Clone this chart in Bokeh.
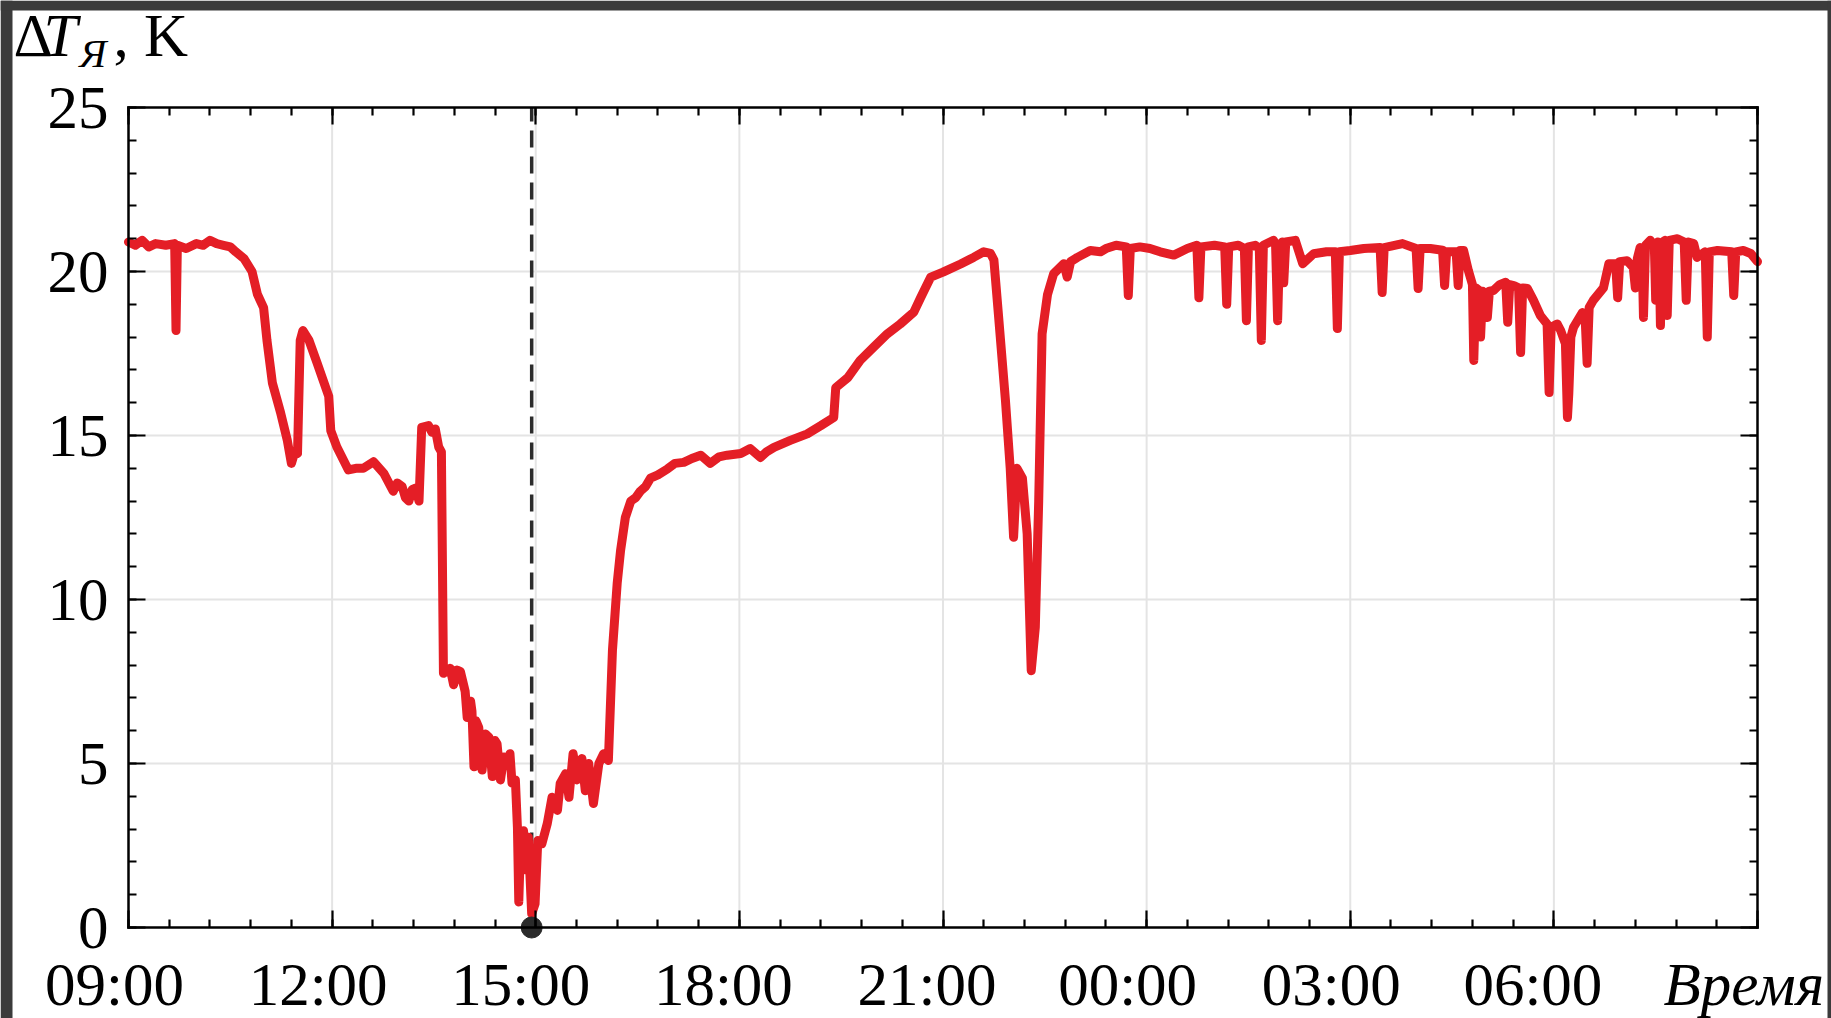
from bokeh.plotting import figure
from bokeh.models import (Range1d, FixedTicker, LabelSet, ColumnDataSource,
                          LinearAxis, BoxAnnotation)
from bokeh.core.properties import value
from bokeh.embed import file_html
from bokeh.resources import INLINE

# ---------------- data (time in hours, 9 = 09:00, 33 = 09:00 next day) ----------------
time_h = [
    9.00, 9.10, 9.20, 9.30, 9.40, 9.55, 9.68, 9.70, 9.72, 9.85, 10.00, 10.10, 10.20, 10.30,
    10.40, 10.50, 10.58, 10.70, 10.82, 10.90, 10.99, 11.04, 11.12, 11.24, 11.34, 11.40,
    11.45, 11.49, 11.53, 11.57, 11.66, 11.78, 11.95, 11.98, 12.07, 12.24, 12.35, 12.46,
    12.61, 12.76, 12.90, 12.96, 13.03, 13.08, 13.13, 13.18, 13.23, 13.28, 13.32, 13.42,
    13.47, 13.52, 13.57, 13.61, 13.64,
    13.74, 13.79, 13.84, 13.89, 13.96, 13.99, 14.04, 14.06, 14.09, 14.12, 14.16, 14.21,
    14.26, 14.31, 14.36, 14.40, 14.43, 14.48, 14.53, 14.58, 14.62, 14.65, 14.70, 14.73,
    14.75, 14.78, 14.82, 14.86, 14.89, 14.94, 14.99, 15.03, 15.09, 15.17, 15.24, 15.32,
    15.36, 15.44, 15.49, 15.55, 15.61, 15.68, 15.73, 15.78, 15.85, 15.93, 16.00, 16.07,
    16.13, 16.20, 16.25,
    16.32, 16.40, 16.47, 16.54, 16.62, 16.69, 16.80, 16.94, 17.05, 17.18, 17.30, 17.43,
    17.57, 17.70, 17.82, 18.02, 18.16, 18.31, 18.40, 18.51, 18.75, 19.00, 19.20, 19.39,
    19.42, 19.60, 19.78, 19.98, 20.18, 20.37, 20.57, 20.67, 20.82, 21.00, 21.26, 21.45,
    21.60, 21.70, 21.75, 21.82, 21.92, 21.99, 22.04, 22.09, 22.17, 22.24, 22.30, 22.36,
    22.41, 22.46, 22.54, 22.63, 22.78, 22.83, 22.88, 22.98, 23.17, 23.32,
    23.40, 23.55, 23.70, 23.73, 23.76, 23.90, 24.05, 24.20, 24.40, 24.60, 24.74, 24.77,
    24.80, 25.00, 25.15, 25.18, 25.21, 25.35, 25.44, 25.47, 25.50, 25.60, 25.66, 25.69,
    25.72, 25.87, 25.90, 25.93, 25.96, 26.00, 26.02, 26.05, 26.19, 26.30, 26.46, 26.65,
    26.78, 26.81, 26.84, 27.00, 27.20, 27.44, 27.47, 27.50, 27.77, 27.97, 28.00, 28.03,
    28.18, 28.36, 28.39, 28.42, 28.56, 28.59, 28.62, 28.67, 28.74, 28.80, 28.82, 28.85,
    28.90, 28.92, 28.95, 29.00, 29.02, 29.05, 29.11, 29.20, 29.29, 29.32, 29.35, 29.41,
    29.48, 29.51, 29.54, 29.61, 29.70, 29.80, 29.90, 29.93, 29.96, 30.05, 30.10, 30.17,
    30.20, 30.22, 30.25, 30.29, 30.42, 30.46, 30.49, 30.52, 30.58, 30.73, 30.81, 30.91,
    30.94, 30.97, 31.08, 31.17, 31.20, 31.23, 31.27, 31.30, 31.32, 31.35, 31.42, 31.48,
    31.50, 31.53, 31.55, 31.57, 31.60, 31.64, 31.67, 31.70, 31.82, 31.92, 31.95, 31.98,
    32.06, 32.11, 32.23, 32.26, 32.29, 32.41, 32.62, 32.65, 32.68, 32.79, 32.90, 33.00,
]
delta_t = [
    20.9, 20.8, 20.95, 20.75, 20.85, 20.8, 20.85, 18.2, 20.8, 20.7, 20.85, 20.8, 20.95, 20.85,
    20.8, 20.75, 20.6, 20.4, 20.0, 19.3, 18.9, 17.9, 16.6, 15.7, 14.85, 14.15,
    14.5, 14.45, 17.9, 18.2, 17.9, 17.2, 16.2, 15.15, 14.65, 13.95, 14.0, 14.0,
    14.2, 13.85, 13.3, 13.55, 13.45, 13.1, 13.0, 13.35, 13.4, 13.0, 15.25, 15.3,
    15.1, 15.2, 14.65, 14.5, 7.75,
    7.9, 7.4, 7.85, 7.8, 7.2, 6.4, 6.9, 6.6, 4.9, 6.3, 6.1, 4.8,
    5.9, 5.8, 4.6, 5.7, 5.6, 4.5, 5.2, 5.0, 5.3, 4.4, 4.5, 3.05,
    0.78, 2.87, 2.95, 1.75, 2.75, 0.42, 0.72, 2.65, 2.55, 3.17, 3.97, 3.57,
    4.39, 4.69, 3.97, 5.3, 4.5, 5.15, 4.17, 5.0, 3.78, 5.0, 5.3, 5.09,
    8.45, 10.5, 11.5,
    12.5, 13.0, 13.1, 13.3, 13.45, 13.7, 13.8, 13.98, 14.15, 14.18, 14.3, 14.4,
    14.15, 14.35, 14.4, 14.45, 14.6, 14.33, 14.5, 14.64, 14.85, 15.05, 15.3, 15.55,
    16.46, 16.77, 17.29, 17.7, 18.1, 18.4, 18.76, 19.2, 19.83, 19.98, 20.23, 20.43,
    20.6, 20.55, 20.35, 18.6, 16.07, 14.0, 11.9, 14.0, 13.7, 12.0, 7.83, 9.15,
    13.0, 18.1, 19.3, 19.93, 20.24, 19.83, 20.3, 20.43, 20.64, 20.6,
    20.7, 20.8, 20.75, 19.27, 20.7, 20.75, 20.7, 20.6, 20.5, 20.7, 20.8, 19.2,
    20.75, 20.8, 20.75, 19.0, 20.75, 20.8, 20.7, 18.5, 20.75, 20.8, 20.7, 17.9,
    20.8, 20.95, 20.8, 18.5, 20.8, 20.9, 19.66, 20.9, 20.95, 20.24, 20.54, 20.6,
    20.6, 18.26, 20.6, 20.64, 20.7, 20.73, 19.36, 20.73, 20.85, 20.7, 19.48, 20.7,
    20.7, 20.65, 19.57, 20.6, 20.6, 19.57, 20.64, 20.64, 20.03, 19.6, 17.29, 19.5,
    19.42, 18.0, 19.4, 19.3, 18.6, 19.4, 19.42, 19.6, 19.67, 18.45, 19.6, 19.57,
    19.5, 17.53, 19.5, 19.48, 19.12, 18.66, 18.4, 16.31, 18.3, 18.4, 18.2, 17.8,
    15.55, 16.28, 18.0, 18.3, 18.75, 18.6, 17.2, 18.9, 19.12, 19.5, 20.24, 20.24,
    19.2, 20.3, 20.33, 20.12, 19.5, 20.4, 20.73, 20.6, 18.6, 20.8, 20.95, 20.8,
    19.12, 20.9, 20.7, 18.35, 20.9, 20.95, 18.66, 20.95, 21.0, 20.9, 19.12, 20.9,
    20.85, 20.43, 20.6, 18.0, 20.6, 20.64, 20.6, 19.27, 20.6, 20.64, 20.55, 20.3,
]

x_ticks = [9, 12, 15, 18, 21, 24, 27, 30, 33]
x_tick_labels = ["09:00", "12:00", "15:00", "18:00", "21:00", "00:00", "03:00", "06:00"]
y_ticks = [0, 5, 10, 15, 20, 25]
x_minor = [9 + 0.6 * i for i in range(41)]
y_minor = list(range(0, 26))

marker_time = 14.94          # vertical dashed line / dot (approx. 14:56)
marker_value = 0.0

y_title_parts = ["Δ", "T", "Я", ", K"]
x_title = "Время"

# ---------------- layout constants (pixels) ----------------
W, H = 1831, 1018
BOX_L, BOX_R, BOX_T, BOX_B = 128, 1757, 107, 927
X0, X1 = x_ticks[0], x_ticks[-1]
Y0, Y1 = y_ticks[0], y_ticks[-1]
pxh = (BOX_R - BOX_L) / (X1 - X0)
pxv = (BOX_B - BOX_T) / (Y1 - Y0)
x_start = X0 - BOX_L / pxh
x_end = X1 + (W - BOX_R) / pxh
y_start = Y0 - (H - BOX_B) / pxv
y_end = Y1 + BOX_T / pxv

FONT = "Liberation Serif"
RED = "#e41e26"
GRID = "#e4e4e4"
DARK = "#3b3b3b"

p = figure(width=W, height=H, output_backend="svg", toolbar_location=None, title=None,
           x_range=Range1d(x_start, x_end), y_range=Range1d(y_start, y_end),
           min_border=0)
p.background_fill_color = "white"
p.border_fill_color = "white"
p.outline_line_color = None
p.xgrid.visible = False
p.ygrid.visible = False

xt = FixedTicker(ticks=x_ticks, minor_ticks=x_minor)
yt = FixedTicker(ticks=y_ticks, minor_ticks=y_minor)


def style_axis(ax, ticker, loc, bounds, show_labels):
    ax.ticker = ticker
    ax.fixed_location = loc
    ax.bounds = bounds
    ax.axis_line_color = "black"
    ax.axis_line_width = 2.5
    ax.axis_line_cap = "square"
    ax.major_tick_line_color = "black"
    ax.major_tick_line_width = 2.2
    ax.minor_tick_line_color = "black"
    ax.minor_tick_line_width = 2.2
    ax.major_tick_in = 17
    ax.major_tick_out = 0
    ax.minor_tick_in = 8
    ax.minor_tick_out = 0
    if show_labels:
        ax.major_label_text_font = FONT
        ax.major_label_text_font_size = "61px"
        ax.major_label_text_color = "black"
        ax.major_label_standoff = 20
    else:
        ax.major_label_text_font_size = "0px"
        ax.major_label_text_color = None


# grid lines (light grey) at the major ticks inside the data box
p.segment(x0=x_ticks[1:-1], y0=[Y0] * (len(x_ticks) - 2), x1=x_ticks[1:-1], y1=[Y1] * (len(x_ticks) - 2),
          line_color=GRID, line_width=2)
p.segment(x0=[X0] * (len(y_ticks) - 2), y0=y_ticks[1:-1], x1=[X1] * (len(y_ticks) - 2), y1=y_ticks[1:-1],
          line_color=GRID, line_width=2)

style_axis(p.xaxis[0], xt, Y0, (X0, X1), False)
style_axis(p.yaxis[0], yt, X0, (Y0, Y1), True)
top_ax = LinearAxis()
right_ax = LinearAxis()
style_axis(top_ax, xt, Y1, (X0, X1), False)
style_axis(right_ax, yt, X1, (Y0, Y1), False)
p.add_layout(top_ax, "above")
p.add_layout(right_ax, "right")

# data
p.segment(x0=[marker_time], y0=[marker_value], x1=[marker_time], y1=[Y1],
          line_color="#2b2b2b", line_width=3.5, line_dash="17 9")
p.line(time_h, delta_t, line_color=RED, line_width=9, line_join="round", line_cap="round")
p.scatter(x=[marker_time], y=[marker_value], size=21, fill_color="#2b2b2b", line_color="#2b2b2b")

# x tick labels (slightly shifted left as in the original)
label_dx = [-14, -14, -15, -16, -16, -19, -19, -21]
src = ColumnDataSource(data=dict(x=x_ticks[:len(x_tick_labels)], y=[Y0] * len(x_tick_labels),
                                 text=x_tick_labels, dx=label_dx))
p.add_layout(LabelSet(x="x", y="y", text="text", source=src, x_offset="dx", y_offset=-77,
                      text_align="center", text_baseline="alphabetic",
                      text_font=value(FONT), text_font_size=value("61px"), text_color="black"))

# x axis title (italic, bottom right)
xt_src = ColumnDataSource(data=dict(x=[X1], y=[Y0], text=[x_title]))
p.add_layout(LabelSet(x="x", y="y", text="text", source=xt_src, x_offset=-94, y_offset=-77,
                      text_align="left", text_baseline="alphabetic",
                      text_font=value(FONT), text_font_style=value("italic"),
                      text_font_size=value("61px"), text_color="black"))

# y axis title  ΔT_Я, K  (mixed upright / italic / subscript)
yt_src = ColumnDataSource(data=dict(
    x=[X0] * 4, y=[Y1] * 4, text=y_title_parts,
    dx=[-115, -85, -49, -15], dy=[52, 52, 41, 52],
    size=["61px", "61px", "41px", "61px"],
    style=["normal", "italic", "italic", "normal"]))
p.add_layout(LabelSet(x="x", y="y", text="text", source=yt_src, x_offset="dx", y_offset="dy",
                      text_align="left", text_baseline="alphabetic",
                      text_font=value(FONT), text_font_style="style",
                      text_font_size="size", text_color="black"))

# dark screenshot edges of the original picture
p.add_layout(BoxAnnotation(right=x_start + 12 / pxh, fill_color=DARK, fill_alpha=1, line_color=None))
p.add_layout(BoxAnnotation(bottom=y_end - 10 / pxv, fill_color=DARK, fill_alpha=1, line_color=None))
p.add_layout(BoxAnnotation(left=x_start + 1827 / pxh, fill_color=DARK, fill_alpha=1, line_color=None))

open("out.html", "w").write(file_html(p, INLINE))
